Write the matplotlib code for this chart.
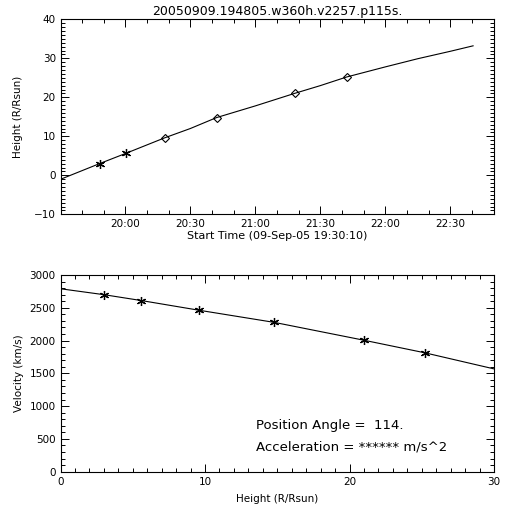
#library
import numpy as np
import matplotlib
matplotlib.use('Agg')
import matplotlib.pyplot as plt
import matplotlib.dates as mdates
from matplotlib.ticker import MultipleLocator
from datetime import datetime

#data
day = '2005-09-09 '
obs_times = ['19:48:05', '20:00:05', '20:18:05', '20:42:05', '21:18:05', '21:42:05']
obs_height = [3.0, 5.6, 9.6, 14.8, 21.0, 25.2]
obs_marker = ['ast', 'ast', 'dia', 'dia', 'dia', 'dia']   # C2 = asterisk, C3 = diamond
obs_velocity = [2700, 2610, 2462, 2277, 2005, 1814]

fit_times = ['19:30:10', '19:48:05', '20:00:05', '20:18:05', '20:30:00', '20:42:05',
             '21:00:00', '21:18:05', '21:30:00', '21:42:05', '22:00:00', '22:15:00',
             '22:30:00', '22:40:30']
fit_height = [-1.0, 3.0, 5.6, 9.6, 12.0, 14.8, 17.8, 21.0, 23.0, 25.2, 27.8, 29.9, 31.8, 33.2]

vfit_height = [0, 3.0, 5.6, 9.6, 14.8, 21.0, 25.2, 30.0]
vfit_velocity = [2790, 2700, 2610, 2462, 2277, 2005, 1814, 1568]

title = '20050909.194805.w360h.v2257.p115s.'
pos_angle = '114.'

def to_dt(s):
    return datetime.strptime(day + s, '%Y-%m-%d %H:%M:%S')

t_obs = [to_dt(s) for s in obs_times]
t_fit = [to_dt(s) for s in fit_times]

plt.rcParams['font.family'] = 'DejaVu Sans'
fig = plt.figure(figsize=(5.12, 5.12), dpi=100)

ast = (6, 2, 0)

def idl_box(ax):
    for s in ax.spines.values():
        s.set_linewidth(0.8)
    ax.tick_params(which='both', direction='in', top=True, right=True, labelsize=7.5, width=0.7)
    ax.tick_params(which='major', length=6)
    ax.tick_params(which='minor', length=3)

# top panel: height vs time
ax1 = fig.add_axes([0.1186, 0.5814, 0.8463, 0.3809])
ax1.plot(t_fit, fit_height, color='black', lw=0.8)
for t, h, m in zip(t_obs, obs_height, obs_marker):
    if m == 'ast':
        ax1.plot(t, h, marker=ast, color='black', ms=6.5, mew=0.9)
    else:
        ax1.plot(t, h, marker='D', mfc='none', mec='black', ms=4.2, mew=0.8)
ax1.set_xlim(to_dt('19:30:10'), to_dt('22:50:10'))
ax1.set_ylim(-10, 40)
ax1.xaxis.set_major_locator(mdates.MinuteLocator(byminute=[0, 30]))
ax1.xaxis.set_minor_locator(mdates.MinuteLocator(byminute=[0, 10, 20, 30, 40, 50]))
ax1.xaxis.set_major_formatter(mdates.DateFormatter('%H:%M'))
ax1.yaxis.set_major_locator(MultipleLocator(10))
ax1.yaxis.set_minor_locator(MultipleLocator(1))
idl_box(ax1)
ax1.set_xlabel('Start Time (09-Sep-05 19:30:10)', fontsize=8, labelpad=1)
ax1.set_ylabel('Height (R/Rsun)', fontsize=7.5, labelpad=8)
ax1.set_title(title, fontsize=9, pad=3)

# bottom panel: velocity vs height
ax2 = fig.add_axes([0.1182, 0.0787, 0.8467, 0.3842])
ax2.plot(vfit_height, vfit_velocity, color='black', lw=0.8)
ax2.plot(obs_height, obs_velocity, ls='none', marker=ast, color='black', ms=6.5, mew=0.9)
ax2.set_xlim(0, 30)
ax2.set_ylim(0, 3000)
ax2.xaxis.set_major_locator(MultipleLocator(10))
ax2.xaxis.set_minor_locator(MultipleLocator(1))
ax2.yaxis.set_major_locator(MultipleLocator(500))
ax2.yaxis.set_minor_locator(MultipleLocator(100))
idl_box(ax2)
ax2.set_xlabel('Height (R/Rsun)', fontsize=7.5, labelpad=5)
ax2.set_ylabel('Velocity (km/s)', fontsize=7.5, labelpad=4)
ax2.text(13.5, 710, 'Position Angle =  ' + pos_angle, fontsize=9.5, va='center')
ax2.text(13.5, 378, 'Acceleration = ****** m/s^2', fontsize=9.5, va='center')

fig.savefig('out.png', dpi=100)
